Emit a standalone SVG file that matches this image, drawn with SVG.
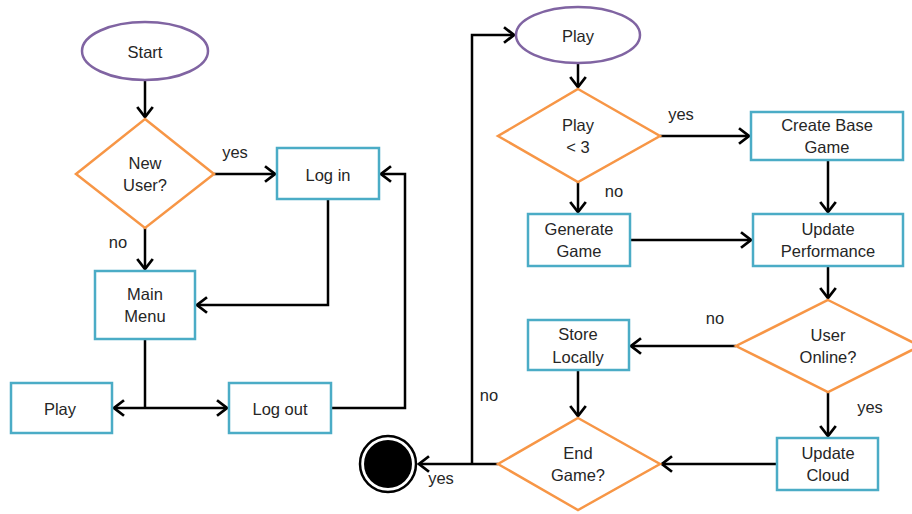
<svg xmlns="http://www.w3.org/2000/svg" width="912" height="514" viewBox="0 0 912 514">
<style>
text{font-family:"Liberation Sans",Arial,sans-serif;font-size:16.5px;fill:#262626;text-anchor:middle;dominant-baseline:central}
.box{fill:#fff;stroke:#4bacc6;stroke-width:2.5}
.dia{fill:#fff;stroke:#f79646;stroke-width:2.5}
.ell{fill:#fff;stroke:#8064a2;stroke-width:2.5}
.c{fill:none;stroke:#000;stroke-width:2.5;marker-end:url(#a)}
.n{fill:none;stroke:#000;stroke-width:2.5}
</style>
<defs>
<marker id="a" markerUnits="userSpaceOnUse" markerWidth="16" markerHeight="20" viewBox="-12 -9 14 18" refX="0" refY="0" orient="auto">
<path d="M-9,-7 L0,0 L-9,7" fill="none" stroke="#000" stroke-width="2.5"/>
</marker>
</defs>
<rect width="912" height="514" fill="#fff"/>
<g id="connectors">
<path class="c" d="M145,81 V117"/>
<path class="c" d="M214,174 H275"/>
<path class="c" d="M145,228 V269"/>
<path class="c" d="M328,199 V305 H197"/>
<path class="n" d="M145,339 V408"/>
<path class="c" d="M145,408 H114"/>
<path class="c" d="M145,408 H227"/>
<path class="c" d="M331,408 H405 V174 H381"/>
<path class="c" d="M578,63 V87"/>
<path class="c" d="M660,136 H749"/>
<path class="c" d="M578,182 V212"/>
<path class="c" d="M828,160 V212"/>
<path class="c" d="M630,240 H751"/>
<path class="c" d="M828,266 V298"/>
<path class="c" d="M736,346 H631"/>
<path class="c" d="M578,370 V416"/>
<path class="c" d="M828,392 V436"/>
<path class="c" d="M777,464 H662"/>
<path class="c" d="M498,464 H419"/>
<path class="c" d="M472,464 V35 H514"/>
<text x="235" y="152">yes</text>
<text x="118" y="242">no</text>
<text x="681" y="114">yes</text>
<text x="614" y="191">no</text>
<text x="715" y="318">no</text>
<text x="870" y="407">yes</text>
<text x="489" y="395">no</text>
<text x="441" y="478">yes</text>
</g>
<g id="start"><ellipse class="ell" cx="145" cy="51" rx="63" ry="29"/><text x="145" y="52">Start</text></g>
<g id="newuser"><polygon class="dia" points="145,119 214,174 145,228 76,174"/><text x="145" y="163">New</text><text x="145" y="185">User?</text></g>
<g id="login"><rect class="box" x="277" y="148" width="102" height="51"/><text x="328" y="175">Log in</text></g>
<g id="mainmenu"><rect class="box" x="95" y="271" width="100" height="68"/><text x="145" y="294">Main</text><text x="145" y="316">Menu</text></g>
<g id="play1"><rect class="box" x="11" y="383" width="101" height="50"/><text x="60" y="409">Play</text></g>
<g id="logout"><rect class="box" x="229" y="383" width="102" height="50"/><text x="280" y="409">Log out</text></g>
<g id="play2"><ellipse class="ell" cx="578" cy="35" rx="62" ry="28"/><text x="578" y="36">Play</text></g>
<g id="playlt3"><polygon class="dia" points="578,89 660,136 578,182 498,136"/><text x="578" y="125">Play</text><text x="578" y="147">&lt; 3</text></g>
<g id="createbase"><rect class="box" x="751" y="112" width="152" height="48"/><text x="827" y="125">Create Base</text><text x="827" y="147">Game</text></g>
<g id="generate"><rect class="box" x="528" y="214" width="102" height="52"/><text x="579" y="229">Generate</text><text x="579" y="251">Game</text></g>
<g id="updateperf"><rect class="box" x="753" y="214" width="150" height="52"/><text x="828" y="229">Update</text><text x="828" y="251">Performance</text></g>
<g id="useronline"><polygon class="dia" points="828,300 920,346 828,392 736,346"/><text x="828" y="335">User</text><text x="828" y="357">Online?</text></g>
<g id="storelocally"><rect class="box" x="528" y="320" width="101" height="50"/><text x="578" y="334">Store</text><text x="578" y="357">Locally</text></g>
<g id="updatecloud"><rect class="box" x="777" y="438" width="101" height="52"/><text x="828" y="453">Update</text><text x="828" y="475">Cloud</text></g>
<g id="endgame"><polygon class="dia" points="578,418 660,464 578,510 498,464"/><text x="578" y="453">End</text><text x="578" y="475">Game?</text></g>
<g id="end"><circle cx="388" cy="464" r="28" fill="#fff" stroke="#000" stroke-width="2.5"/><circle cx="388" cy="464" r="24" fill="#000"/></g>
</svg>
